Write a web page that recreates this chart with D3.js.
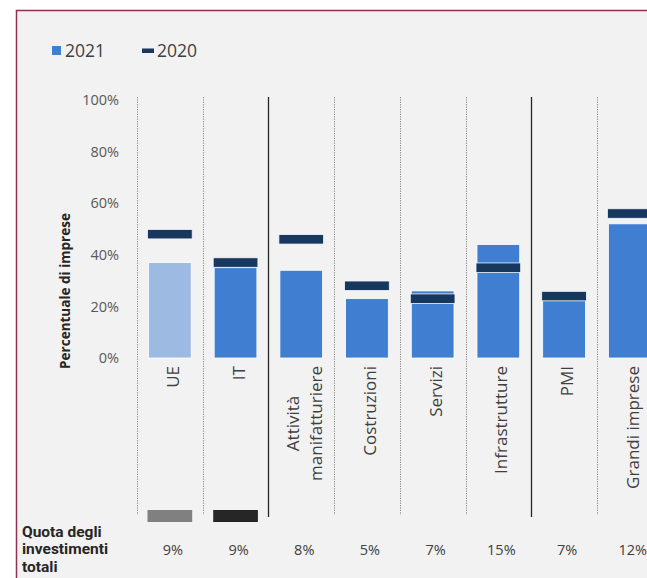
<!DOCTYPE html>
<html>
<head>
<meta charset="utf-8">
<script src="https://cdn.jsdelivr.net/npm/d3@7"></script>
<style>
  html, body { margin: 0; padding: 0; background: #ffffff; }
  svg { display: block; }
  text { font-family: "Open Sans", "Noto Sans", sans-serif; }
</style>
</head>
<body>
<svg id="chart" width="647" height="578"></svg>
<script>
// Categories along the x axis (multi-line labels split on "\n")
const categories = ["UE", "IT", "Attività\nmanifatturiere", "Costruzioni", "Servizi", "Infrastrutture", "PMI", "Grandi imprese"];
// Share of firms, %
const values2021 = [37, 35, 34, 23, 26, 44, 23, 52];
const values2020 = [48, 37, 46, 28, 23, 35, 24, 56];
// Share of total investment per category
const quotaLabels = ["9%", "9%", "8%", "5%", "7%", "15%", "7%", "12%"];
const yTicks = [0, 20, 40, 60, 80, 100];
// Separator styles at the band boundaries (left of each category, then the right end)
const separatorKinds = ["dot", "dot", "solid", "dot", "dot", "dot", "solid", "dot", "dot"];

const svg = d3.select("#chart");

// Frame with light background
svg.append("rect")
  .attr("x", 16.5).attr("y", 10.5)
  .attr("width", 700).attr("height", 620)
  .attr("fill", "#f2f2f2")
  .attr("stroke", "#8c3350")
  .attr("stroke-width", 1.5);

const step = 65.7;
const x0 = 137;
const x = d3.scaleBand()
  .domain(categories)
  .range([x0, x0 + step * categories.length])
  .paddingInner(0.35)
  .paddingOuter(0.175);

const y = d3.scaleLinear().domain([0, 100]).range([358, 100]);

// Legend
const legend = svg.append("g");
legend.append("rect").attr("x", 52).attr("y", 46).attr("width", 9).attr("height", 9).attr("fill", "#3f7ed0");
legend.append("text").attr("x", 65).attr("y", 57).attr("font-size", 17.5).attr("fill", "#404040").text("2021");
legend.append("rect").attr("x", 142).attr("y", 48.5).attr("width", 12).attr("height", 4.5).attr("fill", "#17375e");
legend.append("text").attr("x", 157).attr("y", 57).attr("font-size", 17.5).attr("fill", "#404040").text("2020");

// Y axis tick labels (no axis line)
const yAxis = d3.axisLeft(y)
  .tickValues(yTicks)
  .tickFormat(d => d + "%")
  .tickSize(0)
  .tickPadding(0);
const yG = svg.append("g").attr("transform", "translate(119,0)").call(yAxis);
yG.select(".domain").remove();
yG.selectAll("text")
  .style("font-family", "'Open Sans', sans-serif")
  .attr("font-size", 14.5)
  .attr("fill", "#595959");

// Y axis title
svg.append("text")
  .attr("transform", "translate(70,291) rotate(-90)")
  .attr("text-anchor", "middle")
  .attr("font-size", 13.5)
  .attr("font-weight", "bold")
  .attr("fill", "#262626")
  .text("Percentuale di imprese");

// Separators between categories
const sepG = svg.append("g");
separatorKinds.forEach((kind, i) => {
  const sx = Math.round(x0 + step * i) + 0.5;
  sepG.append("line")
    .attr("x1", sx).attr("x2", sx)
    .attr("y1", 97).attr("y2", kind === "solid" ? 517 : 515)
    .attr("stroke", kind === "solid" ? "#262626" : "#8a8a8a")
    .attr("stroke-width", kind === "solid" ? 1.3 : 1)
    .attr("stroke-dasharray", kind === "solid" ? null : "1.2,1.2");
});

// 2021 bars
svg.append("g").selectAll("rect")
  .data(categories)
  .join("rect")
  .attr("x", d => x(d))
  .attr("y", (d, i) => y(values2021[i]))
  .attr("width", x.bandwidth())
  .attr("height", (d, i) => y(0) - y(values2021[i]))
  .attr("fill", (d, i) => i === 0 ? "#9dbae2" : "#3f7ed0")
  .attr("stroke", "#ffffff")
  .attr("stroke-width", 0.8);

// 2020 markers
const markerH = 9.5;
svg.append("g").selectAll("rect")
  .data(categories)
  .join("rect")
  .attr("x", d => x(d) - 1)
  .attr("y", (d, i) => y(values2020[i]) - markerH / 2)
  .attr("width", x.bandwidth() + 2)
  .attr("height", markerH)
  .attr("fill", "#17375e")
  .attr("stroke", "#f4f7fb")
  .attr("stroke-width", 0.8);

// Category labels, rotated, reading bottom-to-top; lines centred on each other
const labelTop = 366;
const fontSize = 17;
const lineH = 23;
const labG = svg.append("g");
categories.forEach(c => {
  const lines = c.split("\n");
  const cx = x(c) + x.bandwidth() / 2;
  const g = labG.append("g");
  const texts = lines.map((ln, j) => g.append("text")
    .attr("font-size", fontSize)
    .attr("fill", "#404040")
    .text(ln));
  const maxLen = d3.max(texts, t => t.node().getComputedTextLength());
  const midY = labelTop + maxLen / 2;
  texts.forEach((t, j) => {
    const off = (j - (lines.length - 1) / 2) * lineH;
    const px = cx + off + 9;
    t.attr("transform", `translate(${px},${midY}) rotate(-90)`)
      .attr("text-anchor", "middle");
  });
});

// Marker blocks for UE and IT under the label area
const swatchColors = ["#808080", "#262626"];
svg.append("g").selectAll("rect")
  .data(categories.slice(0, 2))
  .join("rect")
  .attr("x", d => x(d) - 1)
  .attr("y", 510)
  .attr("width", x.bandwidth() + 2)
  .attr("height", 12)
  .attr("fill", (d, i) => swatchColors[i]);

// Bottom table: share of total investment
const rowLabel = ["Quota degli", "investimenti", "totali"];
svg.append("g").selectAll("text")
  .data(rowLabel)
  .join("text")
  .attr("x", 22)
  .attr("y", (d, i) => 536.5 + i * 17.7)
  .style("font-family", "Roboto, 'Open Sans', sans-serif")
  .attr("font-size", 15.5)
  .attr("font-weight", "bold")
  .attr("fill", "#262626")
  .text(d => d);

svg.append("g").selectAll("text")
  .data(categories)
  .join("text")
  .attr("x", d => x(d) + x.bandwidth() / 2 + 3)
  .attr("y", 554.5)
  .attr("text-anchor", "middle")
  .attr("font-size", 14.5)
  .attr("fill", "#404040")
  .text((d, i) => quotaLabels[i]);
</script>
</body>
</html>
